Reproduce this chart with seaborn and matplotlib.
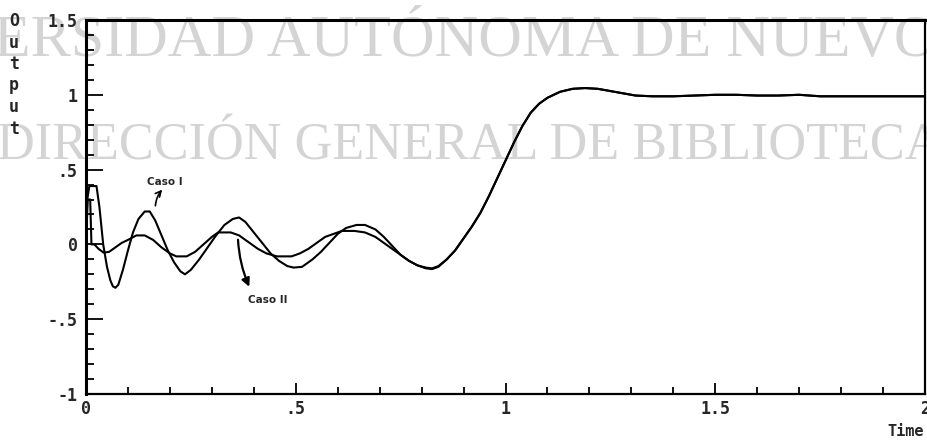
import matplotlib
matplotlib.use('Agg')
import matplotlib.pyplot as plt
from matplotlib.ticker import FixedLocator, FixedFormatter, MultipleLocator
import numpy as np
import pandas as pd
import seaborn as sns

# ── Data ──────────────────────────────────────────────────────────────────────
t_caso1 = [0.000, 0.003, 0.008, 0.025, 0.032, 0.041, 0.050, 0.058, 0.064, 0.070,
           0.077, 0.088, 0.100, 0.112, 0.125, 0.140, 0.152, 0.165, 0.180, 0.195,
           0.210, 0.225, 0.236, 0.250, 0.270, 0.290, 0.310, 0.330, 0.350, 0.365,
           0.380, 0.400, 0.420, 0.440, 0.460, 0.480, 0.495, 0.515, 0.540, 0.560,
           0.580, 0.600, 0.620, 0.645, 0.665, 0.690, 0.710, 0.730, 0.750, 0.770,
           0.790, 0.810, 0.825, 0.840, 0.860, 0.880, 0.900, 0.920, 0.940, 0.960,
           0.980, 1.000, 1.020, 1.040, 1.060, 1.080, 1.100, 1.130, 1.160, 1.190,
           1.220, 1.250, 1.280, 1.310, 1.350, 1.400, 1.450, 1.500, 1.550, 1.600,
           1.650, 1.700, 1.750, 1.800, 1.850, 1.900, 1.950, 2.000]
y_caso1 = [0.00, 0.30, 0.39, 0.39, 0.25, 0.00, -0.15, -0.24, -0.28, -0.29,
           -0.27, -0.17, -0.04, 0.08, 0.17, 0.22, 0.22, 0.16, 0.06, -0.04,
           -0.12, -0.18, -0.20, -0.17, -0.10, -0.02, 0.06, 0.13, 0.17, 0.18,
           0.15, 0.08, 0.01, -0.06, -0.11, -0.145, -0.155, -0.15, -0.10, -0.05,
           0.01, 0.07, 0.11, 0.13, 0.13, 0.10, 0.05, -0.01, -0.07, -0.11,
           -0.14, -0.16, -0.165, -0.15, -0.10, -0.04, 0.04, 0.12, 0.21, 0.32,
           0.44, 0.56, 0.68, 0.79, 0.88, 0.94, 0.98, 1.02, 1.04, 1.045,
           1.04, 1.025, 1.01, 0.995, 0.99, 0.99, 0.995, 1.00, 1.00, 0.995,
           0.995, 1.00, 0.99, 0.99, 0.99, 0.99, 0.99, 0.99]

t_caso2 = [0.000, 0.004, 0.010, 0.013, 0.020, 0.030, 0.042, 0.055, 0.070, 0.085,
           0.100, 0.120, 0.140, 0.160, 0.180, 0.200, 0.215, 0.240, 0.260, 0.280,
           0.300, 0.315, 0.345, 0.365, 0.390, 0.410, 0.430, 0.455, 0.490, 0.510,
           0.530, 0.550, 0.570, 0.590, 0.610, 0.640, 0.665, 0.690, 0.710, 0.730,
           0.750, 0.770, 0.790, 0.810, 0.825, 0.840, 0.860, 0.880, 0.900, 0.920,
           0.940, 0.960, 0.980, 1.000, 1.020, 1.040, 1.060, 1.080, 1.100, 1.130,
           1.160, 1.190, 1.220, 1.250, 1.280, 1.310, 1.350, 1.400, 1.450, 1.500,
           1.550, 1.600, 1.650, 1.700, 1.750, 1.800, 1.850, 1.900, 1.950, 2.000]
y_caso2 = [0.00, 0.30, 0.30, 0.00, 0.00, -0.03, -0.055, -0.05, -0.02, 0.01,
           0.03, 0.06, 0.06, 0.03, -0.02, -0.06, -0.08, -0.08, -0.05, 0.00,
           0.05, 0.08, 0.08, 0.06, 0.01, -0.03, -0.06, -0.08, -0.08, -0.06,
           -0.03, 0.01, 0.05, 0.07, 0.09, 0.09, 0.08, 0.05, 0.01, -0.03,
           -0.07, -0.11, -0.14, -0.155, -0.16, -0.145, -0.10, -0.04, 0.04, 0.12,
           0.21, 0.32, 0.44, 0.56, 0.68, 0.79, 0.88, 0.94, 0.98, 1.02,
           1.04, 1.045, 1.04, 1.025, 1.01, 0.995, 0.99, 0.99, 0.995, 1.00,
           1.00, 0.995, 0.995, 1.00, 0.99, 0.99, 0.99, 0.99, 0.99, 0.99]

xticks      = [0, 0.5, 1, 1.5, 2]
xticklabels = ['0', '.5', '1', '1.5', '2']
yticks      = [-1, -0.5, 0, 0.5, 1, 1.5]
yticklabels = ['-1', '-.5', '0', '.5', '1', '1.5']

df = pd.concat([
    pd.DataFrame({'Time': t_caso1, 'Output': y_caso1, 'case': 'Caso I'}),
    pd.DataFrame({'Time': t_caso2, 'Output': y_caso2, 'case': 'Caso II'}),
], ignore_index=True)

# ── Plot ──────────────────────────────────────────────────────────────────────
sns.set_style('ticks')
plt.rcParams['font.family'] = ['DejaVu Sans Mono']

fig = plt.figure(figsize=(9.27, 4.45), dpi=100)
ax = fig.add_axes([86/927, 1 - 394/445, 839/927, 374/445])
ax.set_zorder(2)
ax.patch.set_alpha(0)

# scanned-page watermark behind the chart
wm = dict(color='#d4d4d4', family='Liberation Serif', zorder=0)
fig.text(-0.169, 1 - 56/445, 'UNIVERSIDAD AUTÓNOMA DE NUEVO LEÓN',
         fontsize=43.5, ha='left', va='baseline', **wm)
fig.text(-0.003, 1 - 159/445, 'DIRECCIÓN GENERAL DE BIBLIOTECAS',
         fontsize=37.6, ha='left', va='baseline', **wm)

sns.lineplot(data=df, x='Time', y='Output', hue='case',
             palette=['black', 'black'], estimator=None, sort=False,
             linewidth=1.5, legend=False, ax=ax)

ax.set_xlim(0, 2)
ax.set_ylim(-1, 1.5)
ax.set_xlabel('')
ax.set_ylabel('')

ax.xaxis.set_major_locator(FixedLocator(xticks))
ax.xaxis.set_major_formatter(FixedFormatter(xticklabels))
ax.yaxis.set_major_locator(FixedLocator(yticks))
ax.yaxis.set_major_formatter(FixedFormatter(yticklabels))
ax.xaxis.set_minor_locator(MultipleLocator(0.1))
ax.yaxis.set_minor_locator(MultipleLocator(0.1))

ax.tick_params(axis='both', which='both', direction='in', color='black', width=1.3,
               labelsize=12, top=False, right=False)
ax.tick_params(axis='y', which='major', length=12, pad=6)
ax.tick_params(axis='y', which='minor', length=6)
ax.tick_params(axis='x', which='major', length=8, pad=4)
ax.tick_params(axis='x', which='minor', length=5)
for lbl in ax.get_xticklabels() + ax.get_yticklabels():
    lbl.set_fontweight('bold')

for side, lw in [('left', 2.2), ('top', 2.2), ('bottom', 1.6), ('right', 1.6)]:
    ax.spines[side].set_visible(True)
    ax.spines[side].set_linewidth(lw)
    ax.spines[side].set_color('black')

# case annotations
ax.annotate('Caso I', xy=(0.186, 0.385), xytext=(0.188, 0.42),
            fontsize=7.5, fontweight='bold', family='DejaVu Sans',
            ha='center', va='center')
ax.annotate('', xy=(0.186, 0.38), xytext=(0.165, 0.24),
            arrowprops=dict(arrowstyle='->', color='black', lw=1.2,
                            connectionstyle='arc3,rad=-0.2'))
ax.annotate('Caso II', xy=(0.39, -0.29), xytext=(0.434, -0.37),
            fontsize=7.5, fontweight='bold', family='DejaVu Sans',
            ha='center', va='center')
ax.annotate('', xy=(0.392, -0.30), xytext=(0.362, 0.05),
            arrowprops=dict(arrowstyle='-|>', color='black', lw=1.6,
                            mutation_scale=12, connectionstyle='arc3,rad=0.1'))

# axis titles as in the original (stacked y label, "Time" at lower right)
fig.text(14/927, 1 - 12/445, '\n'.join('Output'), fontsize=12, fontweight='bold',
         ha='center', va='top', linespacing=1.25)
fig.text(906/927, 1 - 432/445, 'Time', fontsize=11, fontweight='bold',
         ha='center', va='center')

fig.savefig('out.png', dpi=100)
